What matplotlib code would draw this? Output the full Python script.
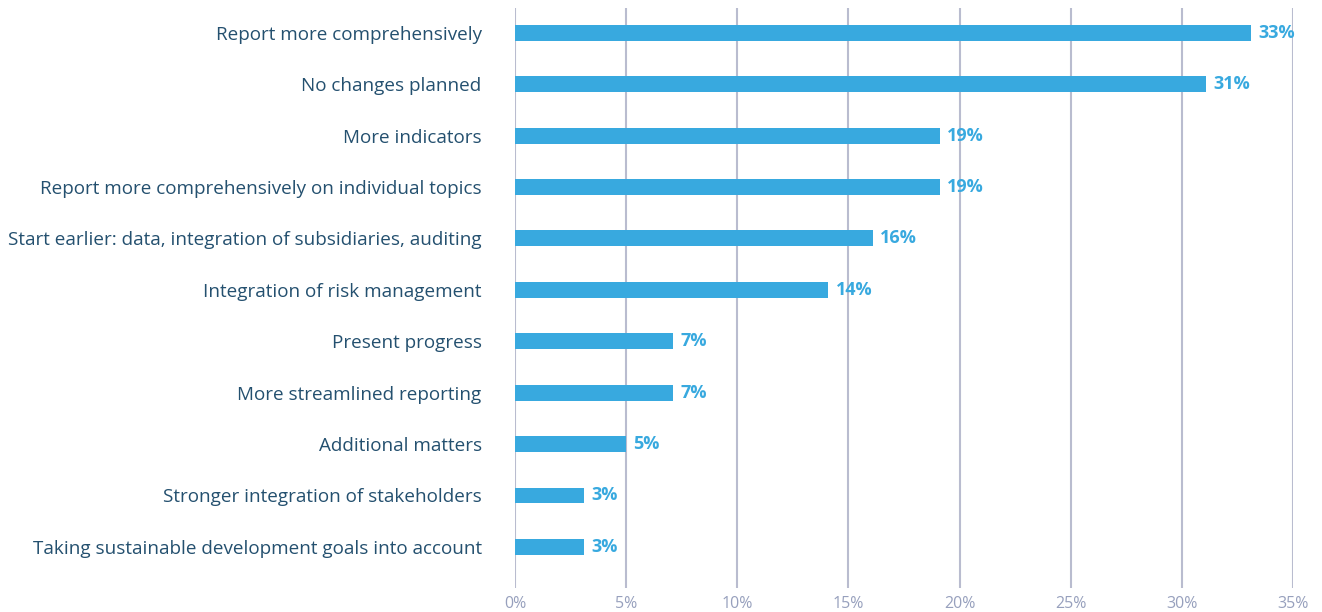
import matplotlib
matplotlib.use("Agg")
import matplotlib.pyplot as plt

categories = [
    "Report more comprehensively",
    "No changes planned",
    "More indicators",
    "Report more comprehensively on individual topics",
    "Start earlier: data, integration of subsidiaries, auditing",
    "Integration of risk management",
    "Present progress",
    "More streamlined reporting",
    "Additional matters",
    "Stronger integration of stakeholders",
    "Taking sustainable development goals into account",
]
values = [33.1, 31.1, 19.1, 19.1, 16.1, 14.1, 7.1, 7.1, 5.0, 3.1, 3.1]
labels = ["33%", "31%", "19%", "19%", "16%", "14%", "7%", "7%", "5%", "3%", "3%"]
ticks = [0, 5, 10, 15, 20, 25, 30, 35]

bar_color = "#38a9df"
text_color = "#24506f"
grid_color = "#b9bccf"
tick_color = "#97a0bd"

plt.rcParams["font.family"] = ["Open Sans", "DejaVu Sans"]

fig = plt.figure(figsize=(13.22, 6.12), dpi=100)
ax = fig.add_axes([0.3896, 0.0392, 0.5885, 0.948])

pos = list(range(len(categories)))
ax.barh(pos, values, height=0.31, color=bar_color, zorder=3)
for p, v, l in zip(pos, values, labels):
    ax.text(v + 0.33, p, l, va="center", ha="left", fontsize=13,
            fontweight="bold", color=bar_color, zorder=4)

ax.set_xlim(0, 35)
ax.set_ylim(10.8, -0.486)
ax.set_yticks(pos)
ax.set_yticklabels(categories, fontsize=13.6, color=text_color)
ax.set_xticks(ticks)
ax.set_xticklabels(["{}%".format(t) for t in ticks], fontsize=11.5, color=tick_color)
ax.tick_params(axis="y", length=0, pad=24)
ax.tick_params(axis="x", length=0, pad=6)
for t in ticks:
    ax.axvline(t, color=grid_color, lw=1.5, zorder=1)
for s in ax.spines.values():
    s.set_visible(False)

fig.savefig("out.png", dpi=100)
